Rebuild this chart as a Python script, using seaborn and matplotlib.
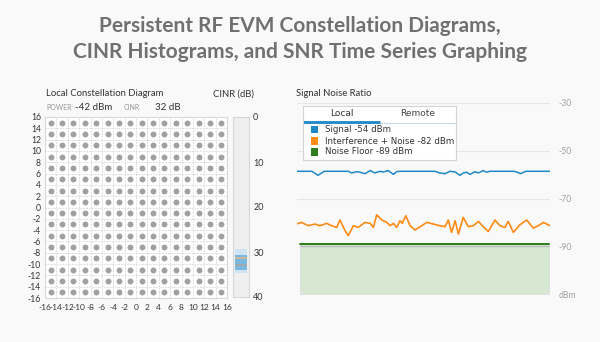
import numpy as np
import pandas as pd
import matplotlib
matplotlib.use("Agg")
import matplotlib.pyplot as plt
import seaborn as sns

# ---------------- data ----------------
title_lines = ["Persistent RF EVM Constellation Diagrams,",
               "CINR Histograms, and SNR Time Series Graphing"]
qam_levels = [-15, -13, -11, -9, -7, -5, -3, -1, 1, 3, 5, 7, 9, 11, 13, 15]
iq_ticks = [-16, -14, -12, -10, -8, -6, -4, -2, 0, 2, 4, 6, 8, 10, 12, 14, 16]
power_label = "-42 dBm"
cinr_label = "32 dB"

cinr_ticks = [0, 10, 20, 30, 40]
cinr_edges = [29.3, 30.7, 34.0, 34.7]
cinr_counts = [1, 3, 1]
cinr_marks = [31.3, 32.9]

snr_ticks = [-30, -50, -70, -90, -110]
snr_ticklabels = ["-30", "-50", "-70", "-90", "dBm"]

signal_t = [0, 5.9, 8.3, 10.7, 20.3, 21.6, 23.6, 24.9, 26.9, 28.9, 30.8, 32.8, 34.1,
            36.1, 38.1, 39.4, 40.7, 54.5, 56.5, 58.5, 60.5, 62.5, 64.4, 65.7, 67.1,
            68.4, 70.4, 71.7, 73.6, 74.9, 76.3, 85.4, 86.4, 88.4, 90.4, 100]
signal_db = [-58.6, -58.6, -60.3, -58.6, -58.6, -59.3, -58.75, -59.0, -59.6, -58.3,
             -59.3, -58.6, -58.9, -58.3, -59.9, -58.75, -58.6, -58.6, -59.3, -59.6,
             -58.6, -58.9, -60.3, -59.3, -59.0, -59.9, -58.75, -59.3, -58.3, -59.0,
             -58.6, -58.6, -58.75, -59.6, -58.6, -58.6]

interf_t = [0, 1.8, 4.5, 7.1, 9.1, 11.7, 13.7, 15.7, 17.0, 19.0, 20.3, 22.3, 24.2,
            26.9, 28.9, 30.2, 31.5, 33.5, 35.5, 36.8, 38.1, 39.4, 40.7, 41.6, 43.0,
            44.7, 46.6, 49.3, 51.3, 53.9, 56.5, 58.5, 59.8, 61.1, 62.5, 63.8, 65.7,
            67.7, 69.7, 71.7, 73.6, 75.6, 78.3, 80.2, 82.2, 83.5, 85.5, 88.1, 90.8,
            93.4, 95.4, 97.4, 100]
interf_db = [-80.6, -80.0, -81.4, -80.7, -81.4, -80.4, -81.4, -82.1, -79.0, -83.5,
             -85.5, -81.4, -82.1, -80.0, -80.4, -82.1, -76.8, -79.0, -80.0, -81.4,
             -80.4, -82.1, -79.3, -80.4, -77.2, -81.4, -83.2, -81.4, -80.0, -80.7,
             -81.4, -81.8, -79.0, -84.2, -79.3, -84.9, -77.9, -81.8, -81.4, -79.6,
             -81.8, -83.8, -79.0, -81.4, -82.1, -79.6, -84.2, -81.0, -79.0, -82.4,
             -81.4, -80.0, -81.4]

noise_floor_t = [1.2, 99.6]
noise_floor_db = [-89, -89]

legend_tabs = ["Local", "Remote"]
legend_labels = ["Signal -54 dBm", "Interference + Noise -82 dBm", "Noise Floor -89 dBm"]

# ---------------- style ----------------
W, H = 600, 342
BG = "#f9f9f9"
C_SIG = "#1f88c8"
C_INT = "#ff8a14"
C_NF = "#2e7d1e"
C_FILL = "#d6e8d2"

sns.set_theme(style="white")
plt.rcParams["font.family"] = ["Lato", "DejaVu Sans"]

fig = plt.figure(figsize=(W / 100, H / 100), dpi=100, facecolor=BG)


def pos(x0, y0, x1, y1):
    return [x0 / W, 1 - y1 / H, (x1 - x0) / W, (y1 - y0) / H]


def ftext(x, y, s, **kw):
    fig.text(x / W, 1 - y / H, s, **kw)


# title
ftext(300, 26, title_lines[0], ha="center", va="center", fontsize=15,
      fontweight="bold", color="#707070")
ftext(300, 52, title_lines[1], ha="center", va="center", fontsize=15,
      fontweight="bold", color="#707070")

# headings
ftext(46, 94, "Local Constellation Diagram", ha="left", va="center", fontsize=6.8, color="#333333")
ftext(46, 107, "POWER", ha="left", va="center", fontsize=5, color="#999999")
ftext(75, 107, power_label, ha="left", va="center", fontsize=7, color="#333333")
ftext(124, 107, "CINR", ha="left", va="center", fontsize=5, color="#999999")
ftext(155, 107, cinr_label, ha="left", va="center", fontsize=7, color="#333333")
ftext(213, 94, "CINR (dB)", ha="left", va="center", fontsize=6.8, color="#333333")
ftext(296, 94, "Signal Noise Ratio", ha="left", va="center", fontsize=6.8, color="#333333")

# ---------------- constellation ----------------
ax = fig.add_axes(pos(45, 117, 227, 298))
ax.set_facecolor("#ffffff")
I, Q = np.meshgrid(qam_levels, qam_levels)
df_c = pd.DataFrame({"I": I.ravel(), "Q": Q.ravel()})
sns.scatterplot(data=df_c, x="I", y="Q", ax=ax, s=18, color="#a0a0a0",
                linewidth=0, marker="o", legend=False, zorder=3)
ax.set_xlim(-16, 16)
ax.set_ylim(-16, 16)
ax.set_xticks(iq_ticks)
ax.set_yticks(iq_ticks)
ax.set_xticklabels([str(v) for v in iq_ticks])
ax.set_yticklabels([str(v) for v in iq_ticks])
ax.grid(True, color="#d4d4d4", linestyle=(0, (2, 1.5)), linewidth=0.6)
ax.tick_params(axis="x", length=0, labelsize=6.0, colors="#333333", pad=4)
ax.tick_params(axis="y", length=0, labelsize=6.2, colors="#333333", pad=3)
ax.set_xlabel("")
ax.set_ylabel("")
for sp in ax.spines.values():
    sp.set_color("#d8d8d8")
    sp.set_linewidth(0.8)

# ---------------- CINR strip ----------------
axc = fig.add_axes(pos(233, 117, 249, 297))
axc.set_facecolor("#efefef")
axc.set_xlim(0, 1)
axc.set_ylim(40, 0)
cmap = {1: "#cfe4f2", 3: "#7ab8df"}
for lo, hi, c in zip(cinr_edges[:-1], cinr_edges[1:], cinr_counts):
    axc.barh(y=(lo + hi) / 2, width=0.72, left=0.14, height=hi - lo,
             color=cmap[c], linewidth=0)
axc.hlines(cinr_marks[0], 0.14, 0.86, color="#d8b894", linewidth=1.3)
axc.hlines(cinr_marks[1], 0.14, 0.86, color="#a7a7a7", linewidth=1.3)
axc.set_xticks([])
axc.yaxis.tick_right()
axc.set_yticks(cinr_ticks)
axc.set_yticklabels([str(v) for v in cinr_ticks])
axc.tick_params(axis="y", length=0, labelsize=6.5, colors="#333333", pad=3)
for sp in axc.spines.values():
    sp.set_color("#d6d6d6")
    sp.set_linewidth(0.8)

# ---------------- SNR time series ----------------
axs = fig.add_axes(pos(297, 103, 550, 294))
axs.set_facecolor(BG)
axs.set_xlim(0, 100)
axs.set_ylim(-110, -30)
for yv in [-30, -50, -70]:
    axs.axhline(yv, color="#e6e6e6", linewidth=0.8, zorder=0)
axs.fill_between(noise_floor_t, -110, noise_floor_db, color=C_FILL,
                 edgecolor="#dddddd", linewidth=0.6, zorder=1)
axs.hlines(-90, noise_floor_t[0], noise_floor_t[1], color="#bbbbbb", linewidth=1.0, zorder=2)

df_s = pd.DataFrame({"t": signal_t, "dB": signal_db})
df_i = pd.DataFrame({"t": interf_t, "dB": interf_db})
df_n = pd.DataFrame({"t": noise_floor_t, "dB": noise_floor_db})
sns.lineplot(data=df_s, x="t", y="dB", ax=axs, color=C_SIG, linewidth=1.1, zorder=4)
sns.lineplot(data=df_i, x="t", y="dB", ax=axs, color=C_INT, linewidth=1.2, zorder=4)
sns.lineplot(data=df_n, x="t", y="dB", ax=axs, color=C_NF, linewidth=1.4, zorder=4)
axs.set_xlabel("")
axs.set_ylabel("")
axs.set_xticks([])
axs.yaxis.tick_right()
axs.set_yticks(snr_ticks)
axs.set_yticklabels(snr_ticklabels)
axs.tick_params(axis="y", length=0, labelsize=6.2, colors="#a0a0a0", pad=6)
for sp in axs.spines.values():
    sp.set_visible(False)

# legend panel
axl = fig.add_axes(pos(303, 106, 456, 160))
axl.set_facecolor("#ffffff")
axl.set_xlim(0, 153)
axl.set_ylim(54, 0)
axl.set_xticks([])
axl.set_yticks([])
for sp in axl.spines.values():
    sp.set_color("#d4d4d4")
    sp.set_linewidth(0.8)
axl.text(39, 8, legend_tabs[0], ha="center", va="center", fontsize=6.5,
         color="#333333", family=["DejaVu Sans"])
axl.text(115, 8, legend_tabs[1], ha="center", va="center", fontsize=6.5,
         color="#444444", family=["DejaVu Sans"])
axl.plot([0, 153], [17, 17], color="#c8d8e6", linewidth=0.8)
axl.plot([0, 77], [16.3, 16.3], color=C_SIG, linewidth=2.0, solid_capstyle="butt")
for yc, col, lab in zip([23.5, 35, 46], [C_SIG, C_INT, C_NF], legend_labels):
    axl.add_patch(plt.Rectangle((7.5, yc - 3.7), 7, 7.4, color=col, linewidth=0))
    axl.text(22, yc, lab, ha="left", va="center", fontsize=6.2, color="#333333",
             family=["DejaVu Sans"])

fig.savefig("out.png", dpi=100, facecolor=BG)
